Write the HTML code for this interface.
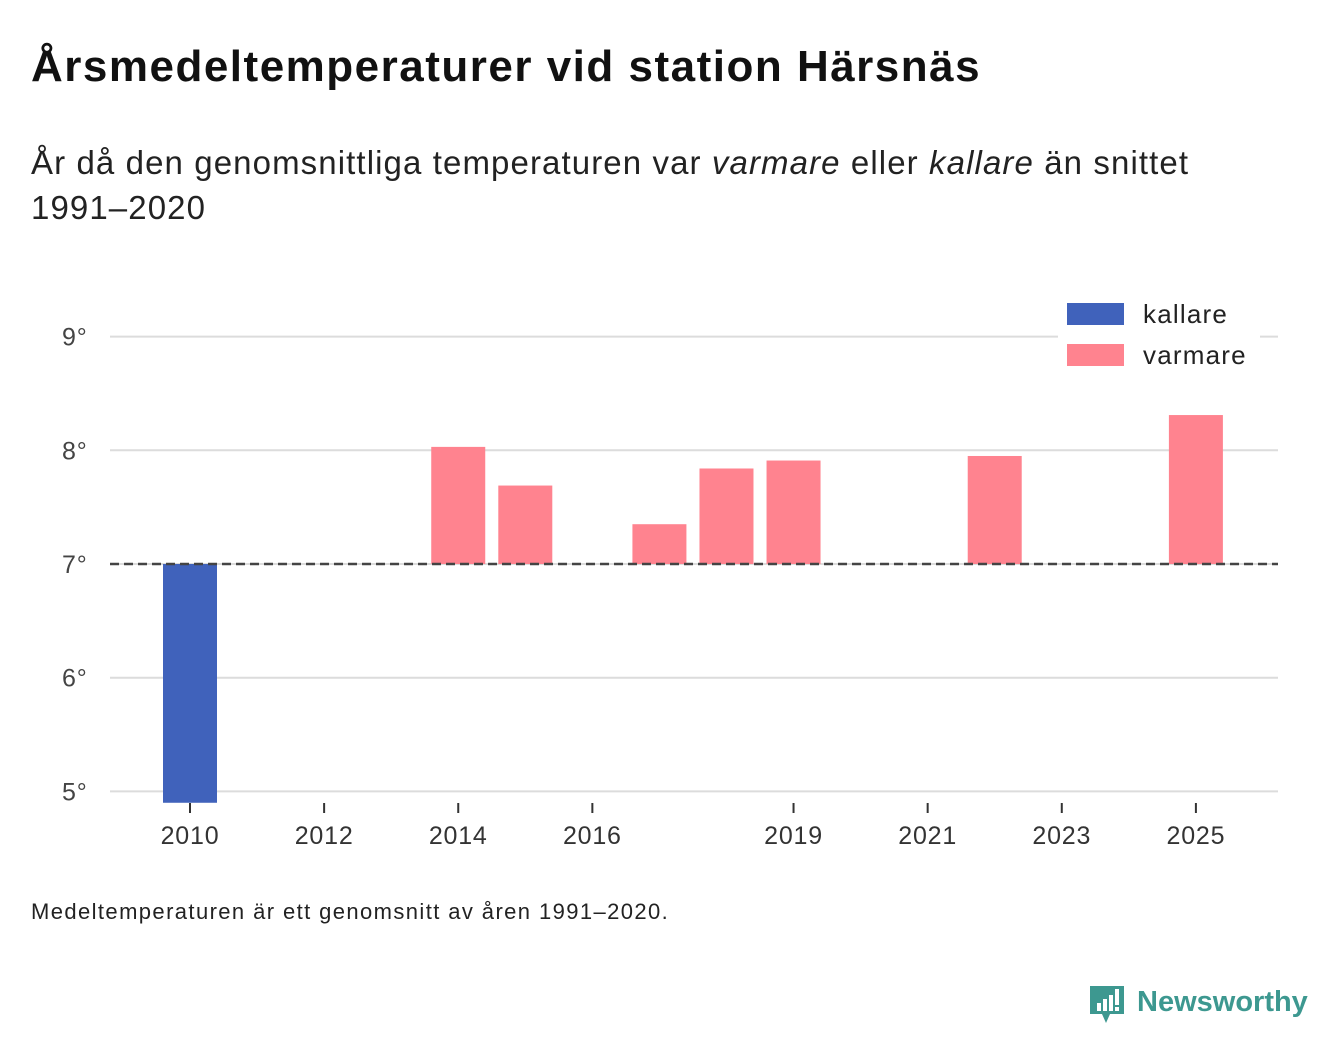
<!DOCTYPE html>
<html><head><meta charset="utf-8">
<style>
body{margin:0;width:1340px;height:1056px;background:#fff;font-family:"Liberation Sans",sans-serif;color:#111;position:relative;overflow:hidden}
#title{position:absolute;left:31px;top:42px;font-size:44px;font-weight:bold;margin:0;letter-spacing:1.5px}
#sub{position:absolute;left:31px;top:140px;font-size:33px;line-height:45px;color:#222;width:1250px;letter-spacing:1.1px}
#note{position:absolute;left:31px;top:899px;font-size:22px;color:#222;letter-spacing:1.4px}
#logo{position:absolute;left:1090px;top:983px}
</style></head><body>
<h1 id="title">Årsmedeltemperaturer vid station Härsnäs</h1>
<div id="sub">År då den genomsnittliga temperaturen var <i>varmare</i> eller <i>kallare</i> än snittet<br>1991–2020</div>
<svg id="chart" width="1340" height="1056" style="position:absolute;left:0;top:0"></svg>
<div id="note">Medeltemperaturen är ett genomsnitt av åren 1991–2020.</div>
<div id="logo">
<svg width="220" height="45">
<path d="M0 3 h34 v28 h-14 l-4 9 l-4 -9 h-12z" fill="#3d9890"/>
<rect x="7" y="20" width="4" height="8" fill="#fff"/><rect x="13" y="16" width="4" height="12" fill="#fff"/><rect x="19" y="12" width="4" height="16" fill="#fff"/><rect x="25" y="6" width="4" height="16" fill="#fff"/><rect x="25" y="24" width="4" height="4" fill="#fff"/>
<text x="47" y="28" font-size="29" font-weight="bold" fill="#3d9890" font-family="Liberation Sans, sans-serif">Newsworthy</text>
</svg></div>
<script>
const years=[2010,2014,2015,2017,2018,2019,2022,2025];
const temps=[4.90,8.03,7.69,7.35,7.84,7.91,7.95,8.31];
const baseline=7;
const yTicks=[5,6,7,8,9];
const xTicks=[2010,2012,2014,2016,2019,2021,2023,2025];
const NS="http://www.w3.org/2000/svg";
const svg=document.getElementById('chart');
const x=yr=>190+(yr-2010)*67.06;
const y=v=>564-(v-7)*113.7;
function el(t,a){const e=document.createElementNS(NS,t);for(const k in a)e.setAttribute(k,a[k]);svg.appendChild(e);return e;}
yTicks.forEach(v=>{
 const g=el('line',{x1:110,x2:1278,y1:y(v),y2:y(v),stroke:'#dcdcdc','stroke-width':2});
 
 
 const t=el('text',{x:62,y:y(v)+9,'font-size':25,fill:'#444','letter-spacing':'0.8'});t.textContent=v+'°';
 
 
});
xTicks.forEach(yr=>{
 const l=el('line',{x1:x(yr),x2:x(yr),y1:803,y2:813,stroke:'#333','stroke-width':2});
 
 
 const t=el('text',{x:x(yr),y:844,'font-size':25,fill:'#333','text-anchor':'middle','letter-spacing':'0.8'});t.textContent=yr;
 
 
});
years.forEach((yr,i)=>{
 const v=temps[i];const warm=v>=baseline;
 const r=el('rect',{x:x(yr)-27,width:54,y:Math.min(y(v),y(baseline)),height:Math.abs(y(v)-y(baseline)),fill:warm?'#ff838f':'#4062bb'});
 
 
});
const b=el('line',{x1:110,x2:1278,y1:y(baseline),y2:y(baseline),stroke:'#444','stroke-width':2.5,'stroke-dasharray':'9,5'});


const lg=el('rect',{x:1058,y:295,width:202,height:82,fill:'#fff'});


[['kallare','#4062bb',303],['varmare','#ff838f',344]].forEach(([n,c,yy])=>{
 const s=el('rect',{x:1067,y:yy,width:57,height:22,fill:c});
 
 
 const t=el('text',{x:1143,y:yy+20,'font-size':26,fill:'#222','letter-spacing':'1.2'});t.textContent=n;
 
 
});
</script>
</body></html>
